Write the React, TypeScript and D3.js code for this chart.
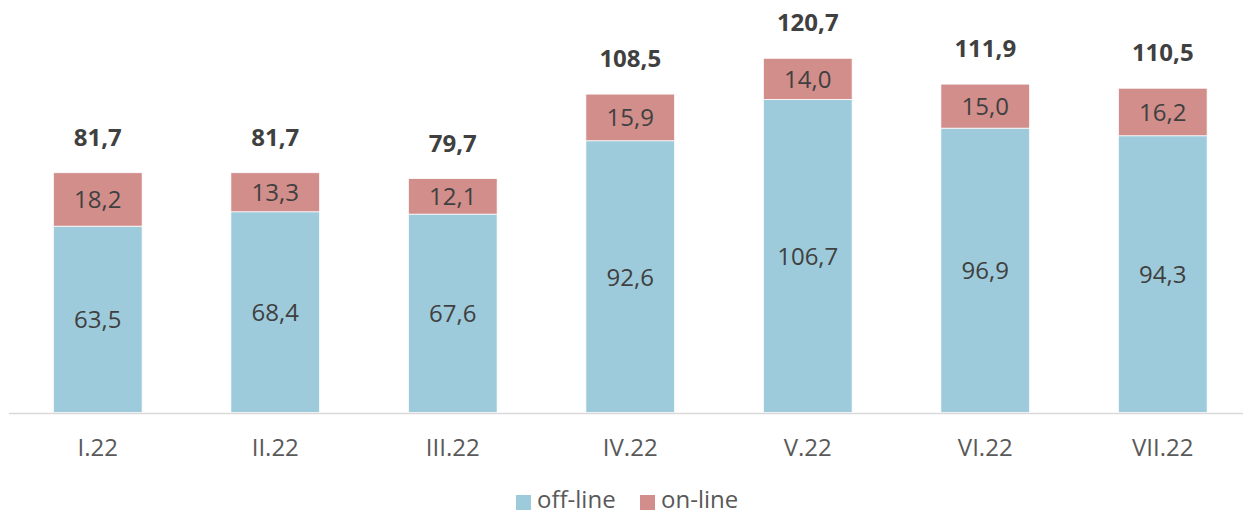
import React from "react";
import * as d3 from "d3";

const categories = ["I.22", "II.22", "III.22", "IV.22", "V.22", "VI.22", "VII.22"];
const offline = [63.5, 68.4, 67.6, 92.6, 106.7, 96.9, 94.3];
const online = [18.2, 13.3, 12.1, 15.9, 14.0, 15.0, 16.2];
const totals = [81.7, 81.7, 79.7, 108.5, 120.7, 111.9, 110.5];
const seriesNames = ["off-line", "on-line"];

const W = 1243;
const H = 515;
const COLORS = ["#9ECBDB", "#D18E8B"];
const FONT = "'Segoe UI', 'Open Sans', 'Noto Sans', sans-serif";
const fmt = (v: number) => v.toFixed(1).replace(".", ",");

export default function App() {
  const x = d3.scaleBand<string>().domain(categories).range([9, 1251.5]).paddingInner(0.5).paddingOuter(0.25);
  const y = d3.scaleLinear().domain([0, 120.7]).range([412.5, 58.3]);

  const rows = categories.map((c, i) => ({ cat: c, off: offline[i], on: online[i] }));
  const stack = d3.stack<any>().keys(["off", "on"])(rows);

  return (
    <svg width={W} height={H} style={{ position: "absolute", left: 0, top: 0, background: "#fff" }} fontFamily={FONT}>
      {stack.map((layer, li) => (
        <g key={li}>
          {layer.map((d, i) => (
            <rect
              key={i}
              x={x(categories[i])}
              y={y(d[1])}
              width={x.bandwidth()}
              height={y(d[0]) - y(d[1])}
              fill={COLORS[li]}
              stroke="#fff"
              strokeWidth={0.75}
            />
          ))}
          {layer.map((d, i) => (
            <text
              key={"t" + i}
              x={(x(categories[i]) as number) + x.bandwidth() / 2}
              y={(y(d[0]) + y(d[1])) / 2 + 9}
              textAnchor="middle"
              fontSize={24}
              fill="#404040"
            >
              {fmt(d[1] - d[0])}
            </text>
          ))}
        </g>
      ))}
      {totals.map((t, i) => (
        <text
          key={"tot" + i}
          x={(x(categories[i]) as number) + x.bandwidth() / 2}
          y={y(t) - 27}
          textAnchor="middle"
          fontSize={24}
          fontWeight="bold"
          fill="#404040"
        >
          {fmt(t)}
        </text>
      ))}
      <line x1={9} x2={1243} y1={413.5} y2={413.5} stroke="#D9D9D9" strokeWidth={1.5} />
      {categories.map((c) => (
        <text
          key={c}
          x={(x(c) as number) + x.bandwidth() / 2}
          y={456}
          textAnchor="middle"
          fontSize={24}
          fill="#595959"
        >
          {c}
        </text>
      ))}
      <g>
        <rect x={516} y={495} width={15} height={15} fill={COLORS[0]} />
        <text x={537} y={508} fontSize={24} fill="#595959">{seriesNames[0]}</text>
        <rect x={640} y={495} width={15} height={15} fill={COLORS[1]} />
        <text x={661} y={508} fontSize={24} fill="#595959">{seriesNames[1]}</text>
      </g>
    </svg>
  );
}
